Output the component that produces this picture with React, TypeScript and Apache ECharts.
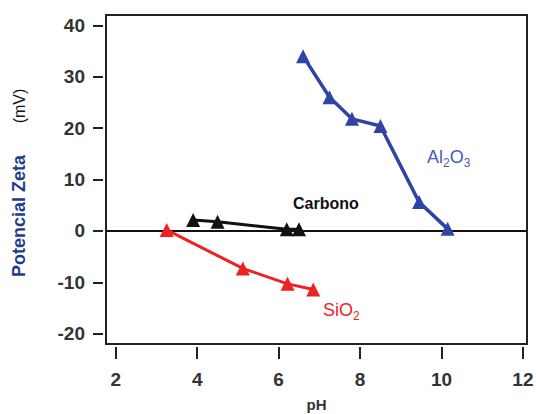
import React, { useEffect, useRef } from "react";
import * as echarts from "echarts";

const al2o3PH = [6.6, 7.25, 7.8, 8.5, 9.45, 10.15];
const al2o3Zeta = [34, 26, 21.8, 20.4, 5.6, 0.4];
const carbonoPH = [3.9, 4.5, 6.2, 6.5];
const carbonoZeta = [2.1, 1.8, 0.3, 0.3];
const sio2PH = [3.25, 5.12, 6.22, 6.85];
const sio2Zeta = [0.2, -7.3, -10.3, -11.4];
const xTicks = [2, 4, 6, 8, 10, 12];
const yTicks = [-20, -10, 0, 10, 20, 30, 40];

const toPairs = (xs: number[], ys: number[]) => xs.map((x, i) => [x, ys[i]]);

export default function App() {
  const ref = useRef<HTMLDivElement>(null);
  useEffect(() => {
    if (!ref.current) return;
    const chart = echarts.init(ref.current, undefined, { renderer: "svg" });
    const font = "Liberation Sans, Arial, sans-serif";
    const mkSeries = (name: string, data: number[][], color: string, w: number) => ({
      name,
      type: "line",
      data,
      symbol: "triangle",
      symbolSize: 14,
      lineStyle: { color, width: w },
      itemStyle: { color },
      z: 5,
    });
    const sub = (color: string) => ({
      a: { fontSize: 18, fill: color, fontFamily: font, lineHeight: 24, verticalAlign: "middle" },
      s: { fontSize: 12, fill: color, fontFamily: font, lineHeight: 24, verticalAlign: "bottom", padding: [9, 0, 0, 0] },
    });
    chart.setOption({
      animation: false,
      backgroundColor: "#fff",
      grid: {
        left: 106,
        right: 9,
        top: 15,
        bottom: 70,
        show: true,
        containLabel: false,
        outerBoundsMode: "none",
        borderColor: "#222",
        borderWidth: 2,
        backgroundColor: "transparent",
      },
      xAxis: {
        type: "value",
        min: 1.76,
        max: 12.1,
        offset: 3,
        axisLine: { show: false, onZero: false },
        axisTick: { show: true, length: 12, lineStyle: { color: "#222", width: 2 }, customValues: xTicks },
        axisLabel: {
          margin: 23,
          fontSize: 19,
          fontWeight: "bold",
          color: "#333",
          fontFamily: font,
          customValues: xTicks,
        },
        splitLine: { show: false },
        name: "pH",
        nameLocation: "middle",
        nameGap: 49,
        nameTextStyle: { fontSize: 15, lineHeight: 16, fontWeight: "bold", color: "#333", fontFamily: font },
      },
      yAxis: {
        type: "value",
        min: -22,
        max: 42,
        offset: 3,
        axisLine: { show: false, onZero: false },
        axisTick: { show: true, length: 10, lineStyle: { color: "#222", width: 2 }, customValues: yTicks },
        axisLabel: {
          margin: 18,
          fontSize: 19,
          fontWeight: "bold",
          color: "#333",
          fontFamily: font,
          customValues: yTicks,
        },
        splitLine: { show: false },
      },
      series: [
        {
          type: "line",
          data: [],
          markLine: {
            silent: true,
            symbol: "none",
            label: { show: false },
            lineStyle: { color: "#111", width: 2, type: "solid" },
            data: [{ yAxis: 0 }],
          },
        },
        mkSeries("Al2O3", toPairs(al2o3PH, al2o3Zeta), "#2f44a6", 3.5),
        mkSeries("Carbono", toPairs(carbonoPH, carbonoZeta), "#111111", 3),
        mkSeries("SiO2", toPairs(sio2PH, sio2Zeta), "#ee2222", 3),
      ],
      graphic: [
        {
          type: "text",
          x: 19,
          y: 216,
          rotation: Math.PI / 2,
          style: {
            text: "Potencial Zeta",
            align: "center",
            verticalAlign: "middle",
            fontSize: 18,
            fontWeight: "bold",
            fill: "#1e3c8c",
            fontFamily: font,
          },
        },
        {
          type: "text",
          x: 19,
          y: 106,
          rotation: Math.PI / 2,
          style: {
            text: "(mV)",
            align: "center",
            verticalAlign: "middle",
            fontSize: 16,
            fill: "#111",
            fontFamily: font,
          },
        },
        {
          type: "text",
          x: 427,
          y: 157,
          style: {
            text: "{a|Al}{s|2}{a|O}{s|3}",
            verticalAlign: "middle",
            rich: sub("#4a5ab8"),
          },
        },
        {
          type: "text",
          x: 293,
          y: 203,
          style: {
            text: "Carbono",
            fontSize: 16,
            fontWeight: "bold",
            fill: "#111",
            fontFamily: font,
            verticalAlign: "middle",
          },
        },
        {
          type: "text",
          x: 323,
          y: 310,
          style: {
            text: "{a|SiO}{s|2}",
            verticalAlign: "middle",
            rich: sub("#ee2222"),
          },
        },
      ],
    });
    return () => chart.dispose();
  }, []);
  return <div ref={ref} style={{ width: 536, height: 414, position: "absolute", left: 0, top: 0 }} />;
}
